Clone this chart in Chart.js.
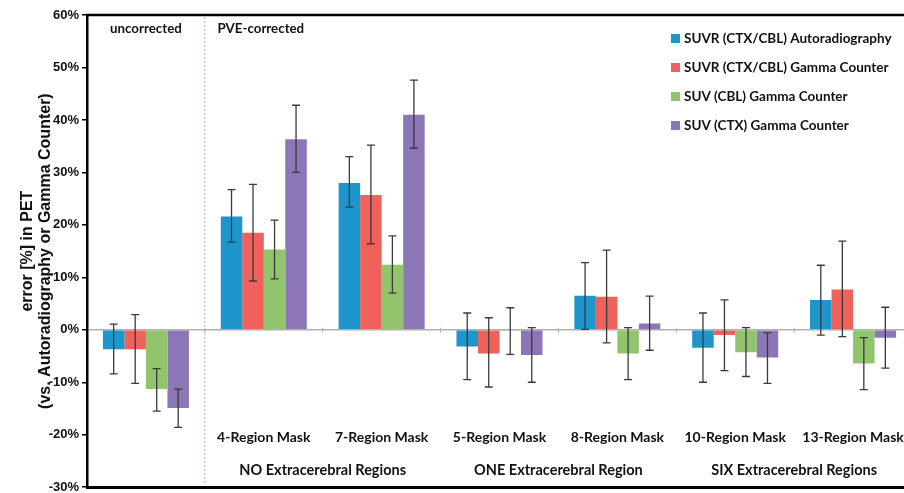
<!DOCTYPE html>
<html>
<head>
<meta charset="utf-8">
<script src="https://cdn.jsdelivr.net/npm/chart.js@4/dist/chart.umd.min.js"></script>
<style>
  html, body { margin: 0; padding: 0; background: #fff; overflow: hidden; }
  #wrap { width: 912px; height: 498px; }
</style>
</head>
<body>
<div id="wrap"><canvas id="petChart"></canvas></div>
<script>
// categories and groups
const categories = ['uncorrected', '4-Region Mask', '7-Region Mask', '5-Region Mask', '8-Region Mask', '10-Region Mask', '13-Region Mask'];
const groupNames = ['NO Extracerebral Regions', 'ONE Extracerebral Region', 'SIX Extracerebral Regions'];
const groupStart = [1, 3, 5];   // first category index of each group
const yTicks = [60, 50, 40, 30, 20, 10, 0, -10, -20, -30];

// series values (%)
const suvrAutorad = [-3.7, 21.6, 28.0, -3.2, 6.5, -3.4, 5.7];
const suvrGamma   = [-3.7, 18.5, 25.7, -4.5, 6.3, -1.0, 7.7];
const suvCbl      = [-11.3, 15.3, 12.4, -0.2, -4.5, -4.3, -6.4];
const suvCtx      = [-14.9, 36.3, 41.0, -4.8, 1.2, -5.3, -1.5];

// error bar ends (%)
const suvrAutoradLow  = [-8.4, 16.7, 23.4, -9.5, 0.1, -10.0, -1.0];
const suvrAutoradHigh = [1.1, 26.7, 33.0, 3.2, 12.8, 3.2, 12.3];
const suvrGammaLow    = [-10.2, 9.3, 16.4, -10.9, -2.5, -7.8, -1.3];
const suvrGammaHigh   = [2.9, 27.7, 35.2, 2.3, 15.2, 5.7, 16.9];
const suvCblLow       = [-15.5, 9.7, 7.0, -4.7, -9.5, -8.9, -11.4];
const suvCblHigh      = [-7.4, 20.9, 17.9, 4.2, 0.4, 0.4, -1.5];
const suvCtxLow       = [-18.6, 30.0, 34.6, -10.0, -3.9, -10.2, -7.3];
const suvCtxHigh      = [-11.3, 42.8, 47.6, 0.4, 6.4, -0.6, 4.3];

const labelFont = '"Lato", "Open Sans", sans-serif';
const axisFont = '"Liberation Sans", Arial, sans-serif';

// error bars, zero line ticks, texts, legend
const decorPlugin = {
    id: 'decor',
    afterDatasetsDraw(chart) {
        const c = chart.ctx;
        const x = chart.scales.x, y = chart.scales.y;
        const area = chart.chartArea;
        const step = x.getPixelForValue(1) - x.getPixelForValue(0);

        // zero line tick marks at category borders
        const y0 = y.getPixelForValue(0);
        c.save();
        c.strokeStyle = '#b0b0b0';
        c.lineWidth = 1;
        for (let i = 1; i < categories.length; i++) {
            const bx = x.getPixelForValue(i) - step / 2;
            c.beginPath();
            c.moveTo(bx, y0 - 2);
            c.lineTo(bx, y0 + 3);
            c.stroke();
        }
        c.restore();

        // error bars
        chart.data.datasets.forEach((ds, di) => {
            const meta = chart.getDatasetMeta(di);
            meta.data.forEach((bar, i) => {
                const top = y.getPixelForValue(ds.errHigh[i]);
                const bot = y.getPixelForValue(ds.errLow[i]);
                c.save();
                c.strokeStyle = '#3a3a3a';
                c.lineWidth = 1.3;
                c.beginPath();
                c.moveTo(bar.x, top); c.lineTo(bar.x, bot);
                c.moveTo(bar.x - 4, top); c.lineTo(bar.x + 4, top);
                c.moveTo(bar.x - 4, bot); c.lineTo(bar.x + 4, bot);
                c.stroke();
                c.restore();
            });
        });

        // dotted separator
        const sepX = x.getPixelForValue(0) + step / 2;
        c.save();
        c.strokeStyle = '#8cc3dc';
        c.lineWidth = 1;
        c.setLineDash([2, 2]);
        c.beginPath();
        c.moveTo(sepX, area.top + 2);
        c.lineTo(sepX, area.bottom - 2);
        c.stroke();
        c.restore();

        // top border
        c.save();
        c.strokeStyle = '#000';
        c.lineWidth = 2.5;
        c.beginPath();
        c.moveTo(area.left - 1, area.top);
        c.lineTo(area.right, area.top);
        c.stroke();
        c.restore();

        // texts
        c.save();
        c.fillStyle = '#111';
        c.font = 'bold 13.3px ' + labelFont;
        c.textAlign = 'center';
        c.textBaseline = 'middle';
        c.fillText('uncorrected', x.getPixelForValue(0), area.top + 14);
        c.fillText('PVE-corrected', sepX + 56, area.top + 14);
        c.font = 'bold 14px ' + labelFont;
        for (let i = 1; i < categories.length; i++) {
            c.fillText(categories[i], x.getPixelForValue(i), y.getPixelForValue(-20.5));
        }
        c.font = 'bold 14.5px ' + labelFont;
        groupNames.forEach((g, gi) => {
            const gx = (x.getPixelForValue(groupStart[gi]) + x.getPixelForValue(groupStart[gi] + 1)) / 2;
            c.fillText(g, gx, y.getPixelForValue(-26.8));
        });

        // legend
        c.font = 'bold 13.5px ' + labelFont;
        c.textAlign = 'left';
        chart.data.datasets.forEach((ds, di) => {
            const ly = area.top + 23 + di * 29;
            c.fillStyle = ds.backgroundColor;
            c.fillRect(671, ly - 4, 9, 9);
            c.fillStyle = '#111';
            c.fillText(ds.label, 684, ly + 1);
        });
        c.restore();
    }
};

const ctx = document.getElementById('petChart').getContext('2d');
const petChart = new Chart(ctx, {
    type: 'bar',
    data: {
        labels: categories,
        datasets: [
            { label: 'SUVR (CTX/CBL) Autoradiography', data: suvrAutorad, errLow: suvrAutoradLow, errHigh: suvrAutoradHigh, backgroundColor: '#1e96cb' },
            { label: 'SUVR (CTX/CBL) Gamma Counter', data: suvrGamma, errLow: suvrGammaLow, errHigh: suvrGammaHigh, backgroundColor: '#ef625c' },
            { label: 'SUV (CBL) Gamma Counter', data: suvCbl, errLow: suvCblLow, errHigh: suvCblHigh, backgroundColor: '#92c46e' },
            { label: 'SUV (CTX) Gamma Counter', data: suvCtx, errLow: suvCtxLow, errHigh: suvCtxHigh, backgroundColor: '#8c77b6' }
        ]
    },
    options: {
        responsive: true,
        maintainAspectRatio: false,
        animation: false,
        categoryPercentage: 0.73,
        barPercentage: 1,
        layout: { padding: { top: 15, right: 0, bottom: 0, left: 0 } },
        plugins: {
            legend: { display: false },
            tooltip: { enabled: false }
        },
        scales: {
            x: {
                ticks: { display: false },
                grid: { display: false },
                border: { display: true, color: '#000', width: 3 },
                afterFit: s => { s.height = 1; }
            },
            y: {
                min: -30,
                max: 60,
                afterBuildTicks: s => { s.ticks = yTicks.map(v => ({ value: v })); },
                ticks: {
                    color: '#111',
                    padding: 3,
                    font: { size: 13, weight: 'bold', family: axisFont },
                    callback: v => v + '%'
                },
                grid: {
                    drawTicks: true,
                    tickLength: 5,
                    tickColor: '#000',
                    color: c => c.tick && c.tick.value === 0 ? '#b0b0b0' : 'rgba(0,0,0,0)',
                    lineWidth: 1.5
                },
                border: { display: true, color: '#000', width: 2.5 },
                title: {
                    display: true,
                    text: ['error [%] in PET', '(vs. Autoradiography or Gamma Counter)'],
                    color: '#111',
                    padding: { top: 19, bottom: 2 },
                    font: { size: 16, weight: 'bold', family: axisFont, lineHeight: 1.12 }
                },
                afterFit: s => { s.width = 87; }
            }
        }
    },
    plugins: [decorPlugin]
});
</script>
</body>
</html>
